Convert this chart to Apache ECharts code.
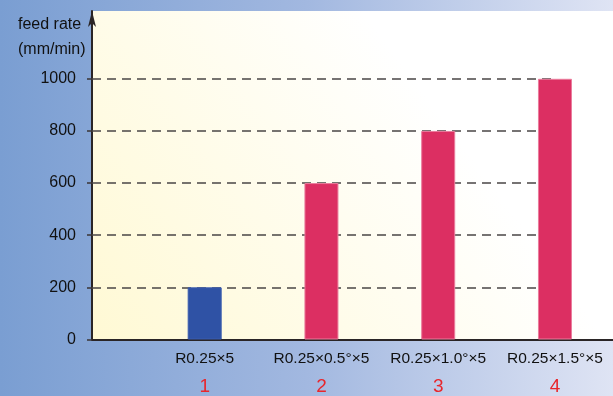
<!DOCTYPE html>
<html>
<head>
<meta charset="utf-8">
<script src="https://cdn.jsdelivr.net/npm/echarts@6/dist/echarts.min.js"></script>
<style>
  html, body { margin: 0; padding: 0; }
  #chart { width: 613px; height: 396px; }
</style>
</head>
<body>
<div id="chart"></div>
<script>
// Feed rate per tool setting
const categories = ['R0.25×5', 'R0.25×0.5°×5', 'R0.25×1.0°×5', 'R0.25×1.5°×5'];
const caseNumbers = ['1', '2', '3', '4'];
const feedRates = [200, 600, 800, 1000];
const barColors = ['#2f52a5', '#dc2f62', '#dc2f62', '#dc2f62'];
const yTicks = [0, 200, 400, 600, 800, 1000];
const gridValues = [200, 400, 600, 800, 1000];

// categories sit at positions 1..n on a numeric x axis
const positions = categories.map((_, i) => i + 1);

const font = 'Liberation Sans, Arial, sans-serif';

const chart = echarts.init(document.getElementById('chart'), null, { renderer: 'canvas' });

const option = {
  animation: false,
  backgroundColor: {
    type: 'linear', x: 0, y: 0, x2: 1, y2: 0,
    colorStops: [
      { offset: 0, color: '#7a9ed2' },
      { offset: 0.5, color: '#a2b8e0' },
      { offset: 1, color: '#dfe4f4' }
    ]
  },
  textStyle: { fontFamily: font },
  title: {
    text: 'feed rate\n(mm/min)',
    left: 13,
    top: 7,
    textStyle: { fontFamily: font, fontSize: 16, fontWeight: 'normal', color: '#111', lineHeight: 25 }
  },
  grid: {
    left: 92, right: 0, top: 11, bottom: 56,
    show: true,
    borderWidth: 0,
    backgroundColor: {
      type: 'linear', x: 0, y: 1, x2: 0.85, y2: 0,
      colorStops: [
        { offset: 0, color: '#fff9d4' },
        { offset: 0.75, color: '#ffffff' },
        { offset: 1, color: '#ffffff' }
      ]
    }
  },
  xAxis: {
    type: 'value',
    min: 0.035,
    max: 4.497,
    axisLine: { show: true, onZero: false, lineStyle: { color: '#2a2526', width: 2 } },
    axisTick: { show: false },
    splitLine: { show: false },
    axisLabel: {
      customValues: positions,
      margin: 9,
      formatter: function (v) {
        const i = Math.round(v) - 1;
        return '{a|' + categories[i] + '}\n{b|' + caseNumbers[i] + '}';
      },
      rich: {
        a: { fontFamily: font, fontSize: 15.5, color: '#111', lineHeight: 20 },
        b: { fontFamily: font, fontSize: 19, color: '#e8262c', lineHeight: 36 }
      }
    }
  },
  yAxis: {
    type: 'value',
    min: 0,
    max: 1260,
    axisLine: {
      show: true,
      symbol: ['none', 'arrow'],
      symbolSize: [6, 16],
      lineStyle: { color: '#2a2526', width: 2 }
    },
    axisTick: { show: true, customValues: yTicks, length: 5, lineStyle: { color: '#3a3536', width: 1.5 } },
    splitLine: { show: false },
    axisLabel: {
      customValues: yTicks,
      margin: 16,
      fontFamily: font,
      fontSize: 16,
      color: '#111',
      formatter: function (v) { return String(v); }
    }
  },
  series: [
    {
      // dashed reference lines, drawn behind the bars
      type: 'line',
      data: [],
      z: 1,
      silent: true,
      markLine: {
        silent: true,
        z: 1,
        symbol: 'none',
        label: { show: false },
        lineStyle: { color: '#4a4646', width: 1.5, type: [9, 6] },
        data: gridValues.map(v => [
          { coord: [0.035, v] },
          { coord: [positions[positions.length - 1], v] }
        ])
      }
    },
    {
      type: 'bar',
      z: 3,
      barWidth: 34,
      data: positions.map((p, i) => ({
        value: [p, feedRates[i]],
        itemStyle: {
          color: barColors[i],
          borderColor: i === 0 ? '#3b5cae' : '#ea7c9c',
          borderWidth: 1
        }
      }))
    }
  ]
};

chart.setOption(option);
</script>
</body>
</html>
